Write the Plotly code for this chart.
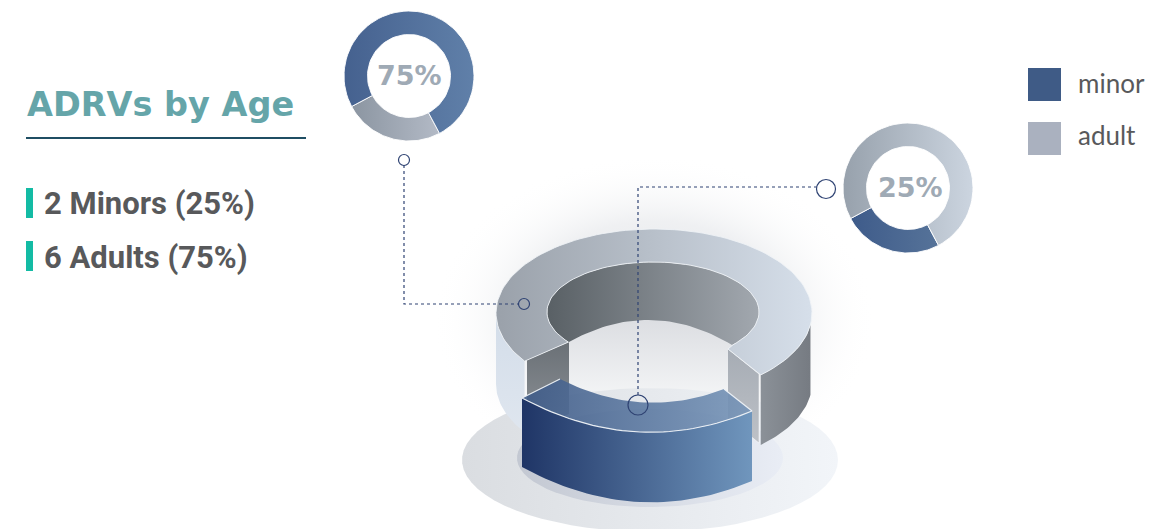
import numpy as np
import plotly.graph_objects as go

age_groups = ["minor", "adult"]
age_counts = [2, 6]
age_shares = [25, 75]
summary_labels = ["2 Minors (25%)", "6 Adults (75%)"]
title_text = "ADRVs by Age"

W, H = 1176, 529
TEAL = "#13bba4"
TEXT = "#58595b"
NAVY = "#2f4373"

fig = go.Figure()


def ell(cx, cy, rx, ry, a0, a1, n=70):
    t = np.radians(np.linspace(a0, a1, n))
    return cx + rx * np.cos(t), cy + ry * np.sin(t)


def curve(p0, p1, p2, n=40):
    # quadratic through three points, x is the parameter
    xs = np.linspace(p0[0], p2[0], n)
    c = np.polyfit([p0[0], p1[0], p2[0]], [p0[1], p1[1], p2[1]], 2)
    return xs, np.polyval(c, xs)


def poly(x, y, c0, c1=None, kind="horizontal", line=None, stops=None):
    # y axis is flipped, so a vertical gradient has to be given bottom first
    if kind == "vertical":
        c0, c1 = c1, c0
    scale = stops if stops else [[0, c0], [1, c1 or c0]]
    fig.add_trace(
        go.Scatter(
            x=list(x),
            y=list(y),
            mode="lines",
            fill="toself",
            fillgradient=dict(type=kind, colorscale=scale),
            line=dict(color=line or "rgba(0,0,0,0)", width=1),
            hoverinfo="skip",
            showlegend=False,
        )
    )


def edge(x, y, color="rgba(238,242,247,0.95)", width=1.2):
    fig.add_trace(
        go.Scatter(
            x=list(x), y=list(y), mode="lines", line=dict(color=color, width=width),
            hoverinfo="skip", showlegend=False,
        )
    )


def donut(cx, cy, values, blue, gray):
    # the smaller slice sits low in the ring, the larger wraps over the top
    small = min(values)
    a0 = 107 - small * 1.8
    a1 = a0 + small * 3.6
    for start, end, pair in (
        (a0, a1, blue if values[0] == small else gray),
        (a1, a0 + 360, gray if values[0] == small else blue),
    ):
        ox, oy = ell(cx, cy, 65, 65, start, end)
        ix, iy = ell(cx, cy, 41.5, 41.5, end, start)
        poly(np.r_[ox, ix, ox[0]], np.r_[oy, iy, oy[0]], pair[0], pair[1], line="rgba(255,255,255,0.9)")


def connector(xs, ys):
    fig.add_trace(
        go.Scatter(
            x=xs, y=ys, mode="lines", line=dict(color=NAVY, width=1.2, dash="dot"),
            hoverinfo="skip", showlegend=False,
        )
    )


def ring_dot(x, y, size):
    fig.add_trace(
        go.Scatter(
            x=[x], y=[y], mode="markers",
            marker=dict(size=size, color="rgba(255,255,255,0)", line=dict(color=NAVY, width=1.2)),
            hoverinfo="skip", showlegend=False,
        )
    )


# soft glow and the floor
hx, hy = ell(654, 320, 222, 165, 0, 360)
poly(hx, hy, None, kind="radial", stops=[
    [0, "rgba(195,199,206,0.6)"],
    [0.6, "rgba(215,218,223,0.4)"],
    [1, "rgba(255,255,255,0)"],
])
lx, ly = curve((569, 342), (653, 320), (732, 345))
poly(np.r_[lx, 732, 569], np.r_[ly, 405, 405], "#dcdee2", "#f6f7f8", "vertical")

bx, by = ell(650, 460, 188, 72, 0, 360)
poly(bx, by, "#dadde1", "#f2f5f9")
bx, by = ell(650, 458, 133, 49, 0, 360)
poly(bx, by, "#c3c8d2", "#e9edf5")

# ring, back to front. The gap in the ring comes from the minor share.
CX, CY, RX, RY = 654, 313, 158, 84
DEPTH = 71
gap = age_shares[0] * 3.6 + 7.5
gap_start = 47.5
gap_end = gap_start + gap

ox, oy = ell(CX, CY, RX, RY, gap_end, 180, 30)
poly(np.r_[ox, ox[::-1]], np.r_[oy, oy[::-1] + DEPTH], "#d3dde9", "#dfe6ef", "vertical")
poly([527, 569, 569, 527], [360, 342, 414, 432], "#6a7076", "#8f9499", "vertical")

ox, oy = ell(CX, CY, RX, RY, 8, gap_start, 30)
poly(np.r_[ox, ox[::-1]], np.r_[oy, oy[::-1] + DEPTH - 1], "#8b9198", "#767b82")
poly([728, 759, 759, 728], [349, 374, 443, 418], "#a6acb4", "#bdc1c7", "vertical", line="rgba(255,255,255,0.5)")

ux, uy = ell(653, 312, 106, 50, 143, 401)
lx, ly = curve((569, 342), (653, 320), (732, 345))
poly(np.r_[ux, lx[::-1]], np.r_[uy, ly[::-1]], "#596065", "#a2a8af")

ox, oy = ell(CX, CY, RX, RY, gap_end, 360 + gap_start, 120)
ix, iy = ell(653, 312, 106, 50, 401, 143, 90)
poly(
    np.r_[ox, 728, 732, ix, ox[0]], np.r_[oy, 349, 345, iy, oy[0]],
    "#9aa1aa", "#d6dfea", line="rgba(240,243,247,0.85)",
)

# the minor slice pulled out of the ring
tx, ty = curve((522, 398), (640, 432), (752, 411))
sx, sy = curve((522, 467), (640, 502), (752, 481))
poly(np.r_[tx, sx[::-1]], np.r_[ty, sy[::-1]], "#1f3566", "#7096bd")
ix, iy = curve((560, 379), (638, 402), (724, 389))
poly(
    np.r_[tx, ix[::-1], tx[0]], np.r_[ty, iy[::-1], ty[0]],
    "rgba(62,90,135,0.9)", "rgba(120,150,185,0.9)",
)
edge(np.r_[560, tx, 724], np.r_[379, ty, 389])

# small donuts
donut(409, 76, [age_shares[1], age_shares[0]], ("#45618f", "#6080a9"), ("#8b95a1", "#b3bac6"))
donut(908, 188, [age_shares[0], age_shares[1]], ("#3e5b8a", "#567399"), ("#97a1ac", "#ccd5e0"))

connector([404, 404, 519], [165, 304, 304])
ring_dot(404, 160, 11)
ring_dot(524, 304, 11)
connector([817, 638, 638], [187, 187, 396])
ring_dot(826, 189, 19)
ring_dot(638, 405, 20)

shapes = [
    dict(type="line", x0=26, x1=306, y0=138, y1=138, line=dict(color="#1f4e63", width=2)),
    dict(type="rect", x0=26, x1=33, y0=188, y1=218, fillcolor=TEAL, line_width=0),
    dict(type="rect", x0=26, x1=33, y0=241, y1=271, fillcolor=TEAL, line_width=0),
    dict(type="rect", x0=1028, x1=1061, y0=68, y1=101, fillcolor="#3f5b86", line_width=0),
    dict(type="rect", x0=1028, x1=1061, y0=122, y1=155, fillcolor="#aab1bf", line_width=0),
]


def label(x, y, text, size, color, family="Inter", anchor="left"):
    return dict(
        x=x, y=y, text=text, showarrow=False, xanchor=anchor, yanchor="middle",
        font=dict(size=size, color=color, family=family),
    )


annotations = [
    label(25, 104, f"<b>{title_text}</b>", 33.5, "#65a5a9", "DejaVu Sans"),
    label(41.5, 203, f"<b>{summary_labels[0]}</b>", 31, TEXT, "Roboto"),
    label(41.5, 257, f"<b>{summary_labels[1]}</b>", 31, TEXT, "Roboto"),
    label(1075.5, 83, age_groups[0], 26, TEXT, "Lato"),
    label(1075.5, 135, age_groups[1], 26, TEXT, "Lato"),
    label(409, 75, f"<b>{age_shares[1]}%</b>", 27, "#9faab5", "DejaVu Sans", "center"),
    label(910, 187, f"<b>{age_shares[0]}%</b>", 27, "#9faab5", "DejaVu Sans", "center"),
]

fig.update_layout(
    width=W,
    height=H,
    margin=dict(l=0, r=0, t=0, b=0),
    paper_bgcolor="white",
    plot_bgcolor="white",
    showlegend=False,
    xaxis=dict(range=[0, W], visible=False, fixedrange=True),
    yaxis=dict(range=[H, 0], visible=False, fixedrange=True),
    shapes=shapes,
    annotations=annotations,
)

fig.write_html(
    "out.html",
    config=dict(displayModeBar=False),
    post_script="document.body.style.margin='0';document.body.style.overflow='hidden';",
)
